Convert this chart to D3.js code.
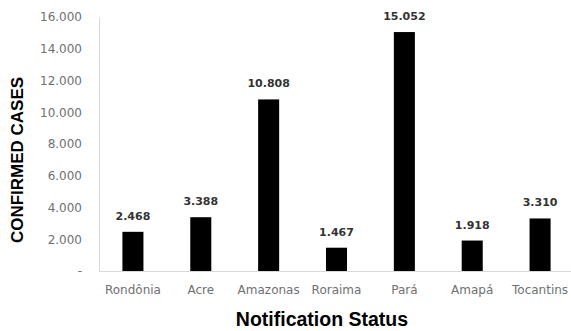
<!DOCTYPE html>
<html>
<head>
<meta charset="utf-8">
<script src="https://cdn.jsdelivr.net/npm/d3@7"></script>
<style>
  html, body { margin: 0; padding: 0; background: #fff; }
  svg { display: block; }
</style>
</head>
<body>
<svg id="chart" width="571" height="331"></svg>
<script>
// Confirmed cases by state (North region)
const states = ["Rondônia", "Acre", "Amazonas", "Roraima", "Pará", "Amapá", "Tocantins"];
const confirmed = [2468, 3388, 10808, 1467, 15052, 1918, 3310];
const yTicks = [0, 2000, 4000, 6000, 8000, 10000, 12000, 14000, 16000];

const svg = d3.select("#chart");
const plot = { left: 99, right: 574, top: 17, bottom: 271 };

const x = d3.scaleBand().domain(states).range([plot.left, plot.right]).paddingInner(0.69).paddingOuter(0.345);
const y = d3.scaleLinear().domain([0, 16000]).range([plot.bottom, plot.top]);

const fmt = v => v === 0 ? "-" : d3.format(",")(v).replace(/,/g, ".");

// y axis
const yAxis = svg.append("g")
  .attr("transform", `translate(${plot.left},0)`)
  .call(d3.axisLeft(y).tickValues(yTicks).tickFormat(fmt).tickSize(0).tickPadding(17));
yAxis.select(".domain").attr("stroke", "#d9d9d9");
yAxis.selectAll("text")
  .attr("font-family", "DejaVu Sans, sans-serif")
  .attr("font-size", 12)
  .attr("fill", "#707070");

// x axis
const xAxis = svg.append("g")
  .attr("transform", `translate(0,${plot.bottom})`)
  .call(d3.axisBottom(x).tickSize(0).tickPadding(14));
xAxis.select(".domain").attr("stroke", "#d9d9d9");
xAxis.selectAll("text")
  .attr("font-family", "DejaVu Sans, sans-serif")
  .attr("font-size", 12)
  .attr("fill", "#707070");

// bars
svg.append("g").selectAll("rect")
  .data(confirmed)
  .join("rect")
  .attr("x", (d, i) => x(states[i]))
  .attr("width", x.bandwidth())
  .attr("y", d => y(d))
  .attr("height", d => y(0) - y(d))
  .attr("fill", "#000");

// value labels
svg.append("g").selectAll("text")
  .data(confirmed)
  .join("text")
  .attr("x", (d, i) => x(states[i]) + x.bandwidth() / 2)
  .attr("y", d => y(d) - 12)
  .attr("text-anchor", "middle")
  .attr("font-family", "DejaVu Sans, sans-serif")
  .attr("font-size", 11)
  .attr("font-weight", "bold")
  .attr("fill", "#333")
  .text(d => fmt(d));

// axis titles
svg.append("text")
  .attr("transform", `translate(23,160) rotate(-90)`)
  .attr("text-anchor", "middle")
  .attr("font-family", "Liberation Sans, Arial, sans-serif")
  .attr("font-size", 17)
  .attr("font-weight", "bold")
  .attr("fill", "#000")
  .text("CONFIRMED CASES");

svg.append("text")
  .attr("x", 322)
  .attr("y", 326)
  .attr("text-anchor", "middle")
  .attr("font-family", "Liberation Sans, Arial, sans-serif")
  .attr("font-size", 19.5)
  .attr("font-weight", "bold")
  .attr("fill", "#000")
  .text("Notification Status");
</script>
</body>
</html>
